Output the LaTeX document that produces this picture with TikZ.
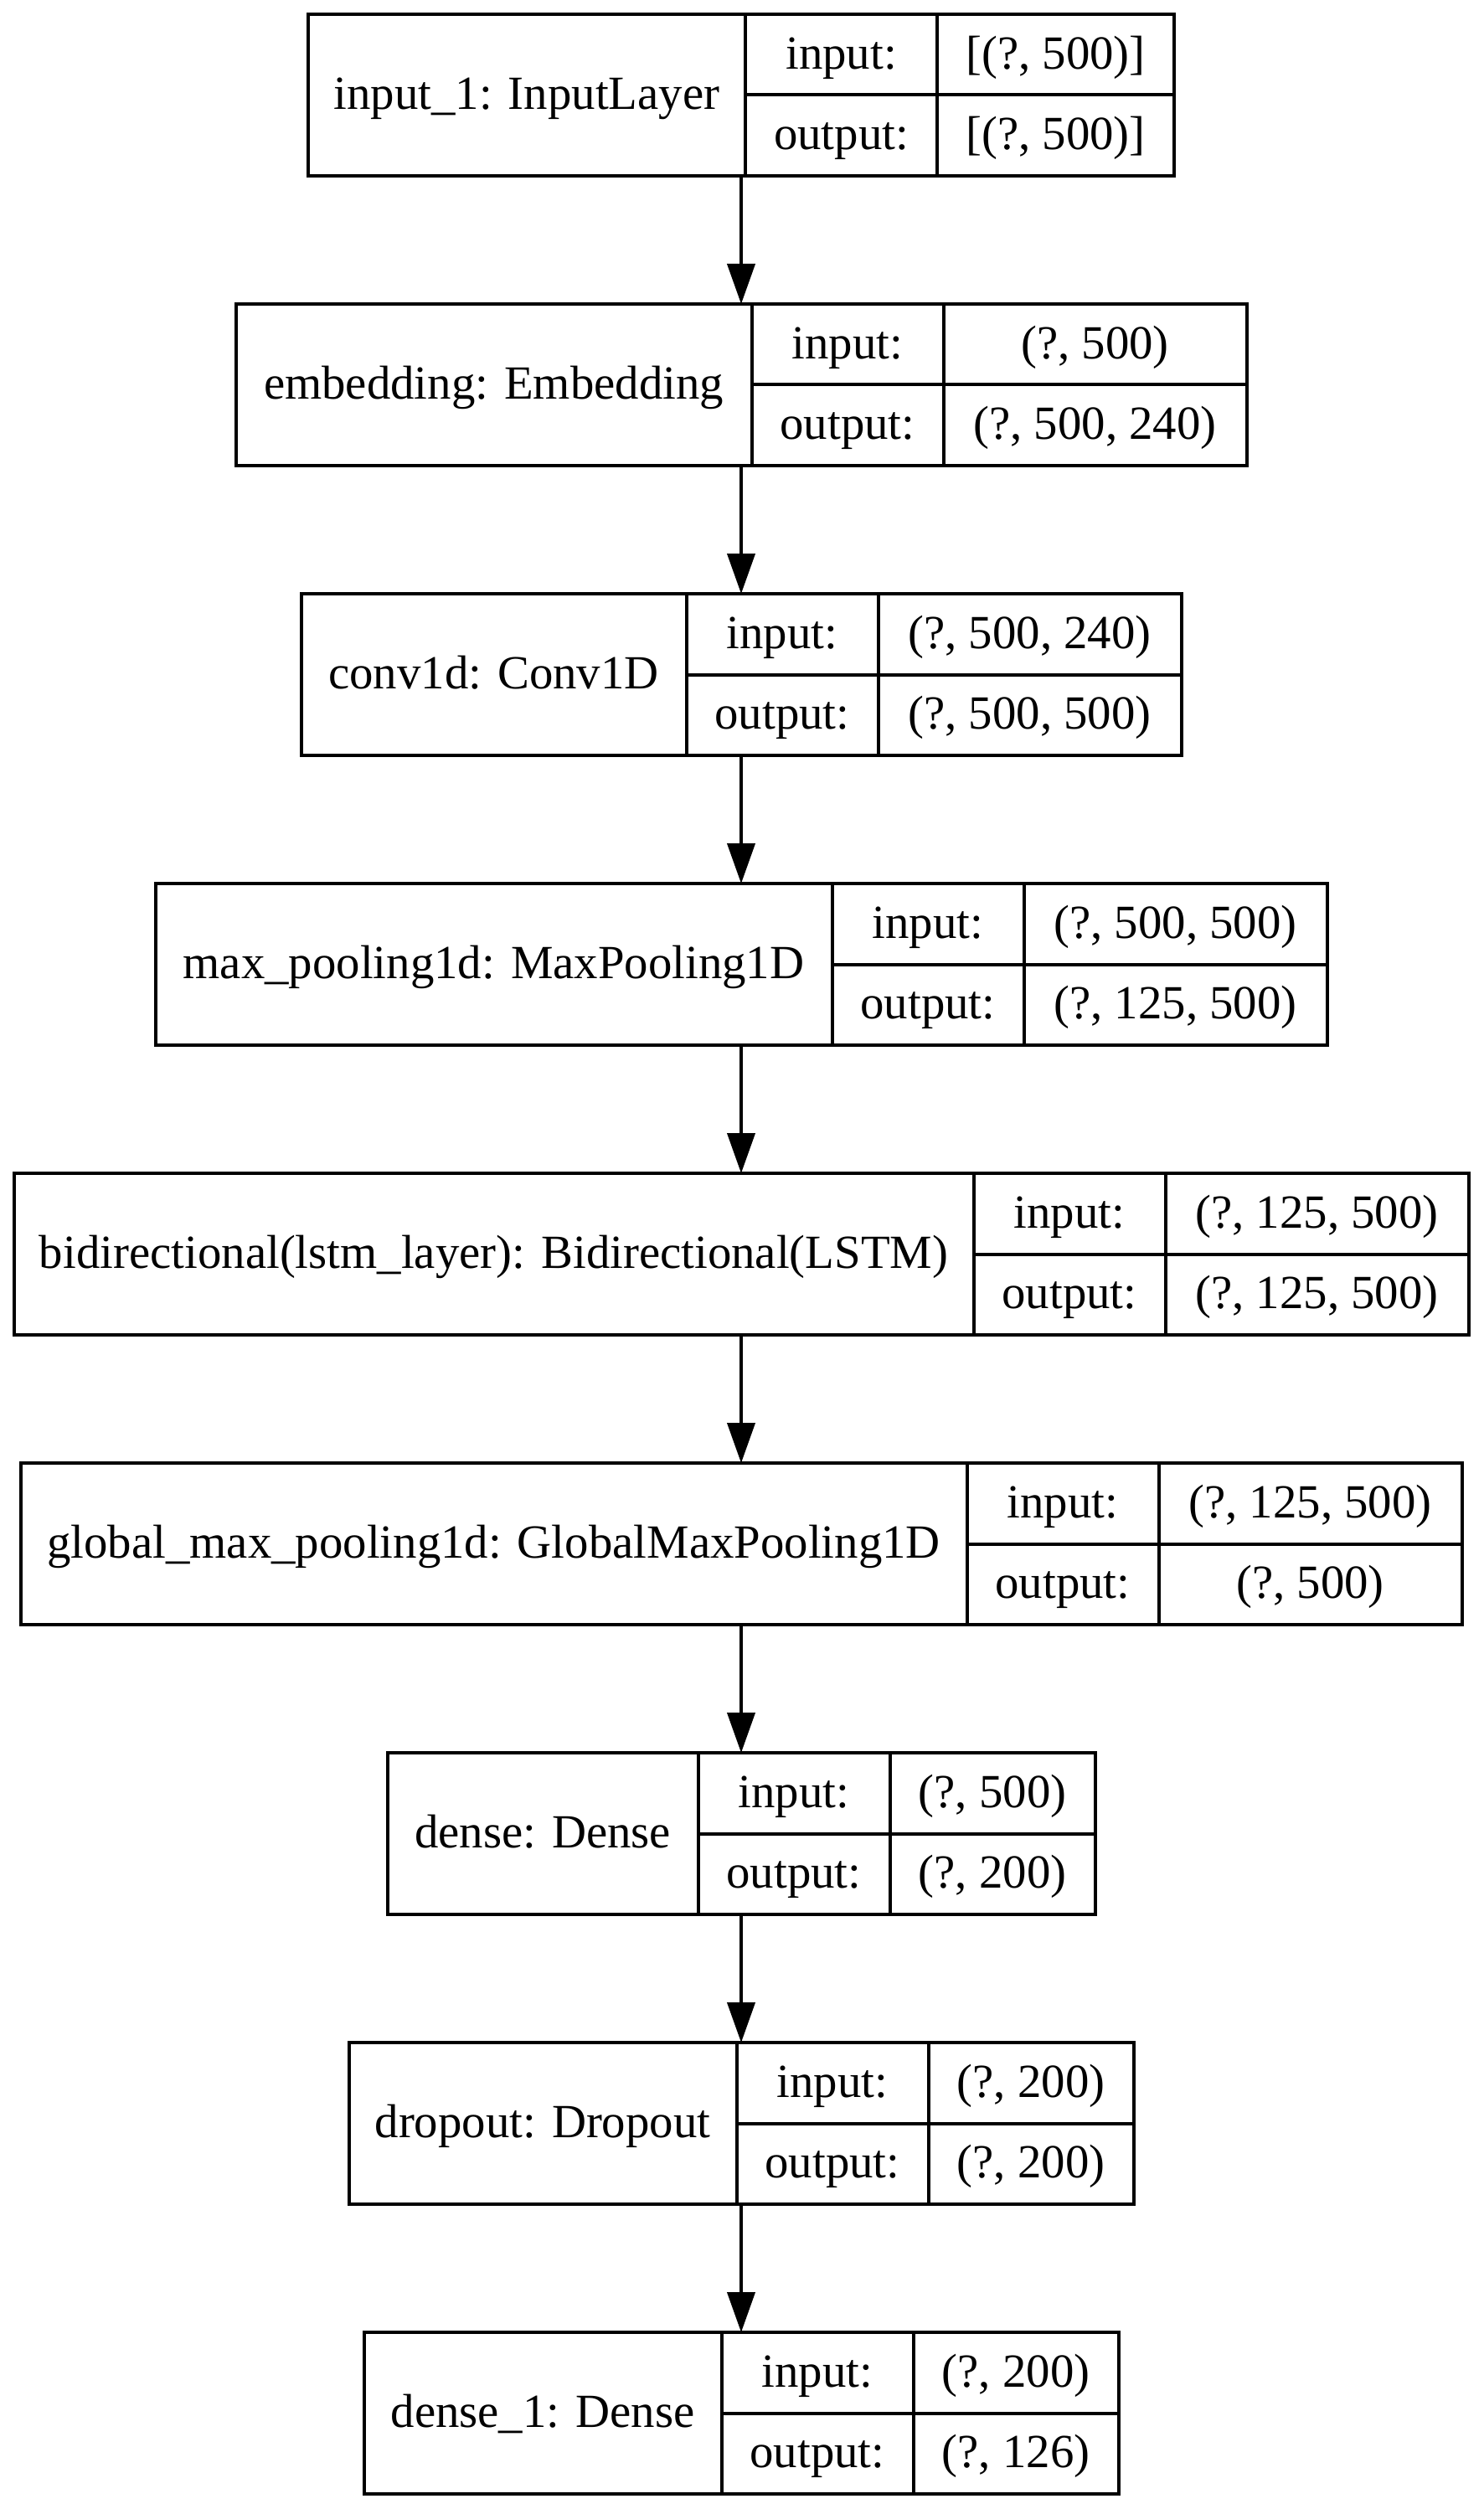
\documentclass[tikz,border=0pt]{standalone}
\usepackage{fontspec}
\setmainfont{Liberation Serif}
\usepackage{tikz}
\usetikzlibrary{arrows.meta}

\begin{document}
\begin{tikzpicture}[font=\fontsize{14.2pt}{17pt}\selectfont, line width=1pt,
  layer/.style={minimum height=48.25pt, inner sep=0pt, outer sep=0pt},
  lname/.style={draw, anchor=west, minimum height=48.25pt, inner sep=0pt,
                outer sep=0pt, text height=10.5pt, text depth=2pt},
  io/.style={draw, anchor=north west, minimum width=57.25pt,
             minimum height=24.125pt, inner sep=0pt, outer sep=0pt,
             text height=10.5pt, text depth=2pt},
  val/.style={io, minimum width=#1},
  a/.style={-{Triangle[length=12pt, width=8.25pt]}}]
\useasboundingbox (0,0) rectangle (442.75pt,-749pt);

% input_1
\node[layer, minimum width=258.5pt] (inl) at (221.25pt,-28.375pt) {};
\node[lname, minimum width=130.5pt] (inl-n) at (inl.west) {input\_1: InputLayer};
\node[io] (inl-i) at (inl-n.north east) {input:};
\node[io] (inl-o) at (inl-i.south west) {output:};
\node[val=70.75pt] (inl-iv) at (inl-i.north east) {[(?, 500)]};
\node[val=70.75pt] (inl-ov) at (inl-o.north east) {[(?, 500)]};

% embedding
\node[layer, minimum width=301.75pt] (emb) at (221.25pt,-114.875pt) {};
\node[lname, minimum width=154pt] (emb-n) at (emb.west) {embedding: Embedding};
\node[io] (emb-i) at (emb-n.north east) {input:};
\node[io] (emb-o) at (emb-i.south west) {output:};
\node[val=90.5pt] (emb-iv) at (emb-i.north east) {(?, 500)};
\node[val=90.5pt] (emb-ov) at (emb-o.north east) {(?, 500, 240)};

% conv1d
\node[layer, minimum width=262.75pt] (conv) at (221.25pt,-201.375pt) {};
\node[lname, minimum width=115pt] (conv-n) at (conv.west) {conv1d: Conv1D};
\node[io] (conv-i) at (conv-n.north east) {input:};
\node[io] (conv-o) at (conv-i.south west) {output:};
\node[val=90.5pt] (conv-iv) at (conv-i.north east) {(?, 500, 240)};
\node[val=90.5pt] (conv-ov) at (conv-o.north east) {(?, 500, 500)};

% max_pooling1d
\node[layer, minimum width=349.75pt] (mpool) at (221.25pt,-287.875pt) {};
\node[lname, minimum width=202pt] (mpool-n) at (mpool.west) {max\_pooling1d: MaxPooling1D};
\node[io] (mpool-i) at (mpool-n.north east) {input:};
\node[io] (mpool-o) at (mpool-i.south west) {output:};
\node[val=90.5pt] (mpool-iv) at (mpool-i.north east) {(?, 500, 500)};
\node[val=90.5pt] (mpool-ov) at (mpool-o.north east) {(?, 125, 500)};

% bidirectional
\node[layer, minimum width=434.25pt] (bilstm) at (221.25pt,-374.375pt) {};
\node[lname, minimum width=286.5pt] (bilstm-n) at (bilstm.west) {bidirectional(lstm\_layer): Bidirectional(LSTM)};
\node[io] (bilstm-i) at (bilstm-n.north east) {input:};
\node[io] (bilstm-o) at (bilstm-i.south west) {output:};
\node[val=90.5pt] (bilstm-iv) at (bilstm-i.north east) {(?, 125, 500)};
\node[val=90.5pt] (bilstm-ov) at (bilstm-o.north east) {(?, 125, 500)};

% global_max_pooling1d
\node[layer, minimum width=430.25pt] (gpool) at (221.25pt,-460.875pt) {};
\node[lname, minimum width=282.5pt] (gpool-n) at (gpool.west) {global\_max\_pooling1d: GlobalMaxPooling1D};
\node[io] (gpool-i) at (gpool-n.north east) {input:};
\node[io] (gpool-o) at (gpool-i.south west) {output:};
\node[val=90.5pt] (gpool-iv) at (gpool-i.north east) {(?, 125, 500)};
\node[val=90.5pt] (gpool-ov) at (gpool-o.north east) {(?, 500)};

% dense
\node[layer, minimum width=211.25pt] (dns) at (221.25pt,-547.375pt) {};
\node[lname, minimum width=92.75pt] (dns-n) at (dns.west) {dense: Dense};
\node[io] (dns-i) at (dns-n.north east) {input:};
\node[io] (dns-o) at (dns-i.south west) {output:};
\node[val=61.25pt] (dns-iv) at (dns-i.north east) {(?, 500)};
\node[val=61.25pt] (dns-ov) at (dns-o.north east) {(?, 200)};

% dropout
\node[layer, minimum width=234.25pt] (drop) at (221.25pt,-633.875pt) {};
\node[lname, minimum width=115.75pt] (drop-n) at (drop.west) {dropout: Dropout};
\node[io] (drop-i) at (drop-n.north east) {input:};
\node[io] (drop-o) at (drop-i.south west) {output:};
\node[val=61.25pt] (drop-iv) at (drop-i.north east) {(?, 200)};
\node[val=61.25pt] (drop-ov) at (drop-o.north east) {(?, 200)};

% dense_1
\node[layer, minimum width=225.25pt] (dns1) at (221.25pt,-720.375pt) {};
\node[lname, minimum width=106.75pt] (dns1-n) at (dns1.west) {dense\_1: Dense};
\node[io] (dns1-i) at (dns1-n.north east) {input:};
\node[io] (dns1-o) at (dns1-i.south west) {output:};
\node[val=61.25pt] (dns1-iv) at (dns1-i.north east) {(?, 200)};
\node[val=61.25pt] (dns1-ov) at (dns1-o.north east) {(?, 126)};

\draw[a] (inl) -- (emb);
\draw[a] (emb) -- (conv);
\draw[a] (conv) -- (mpool);
\draw[a] (mpool) -- (bilstm);
\draw[a] (bilstm) -- (gpool);
\draw[a] (gpool) -- (dns);
\draw[a] (dns) -- (drop);
\draw[a] (drop) -- (dns1);
\end{tikzpicture}
\end{document}
